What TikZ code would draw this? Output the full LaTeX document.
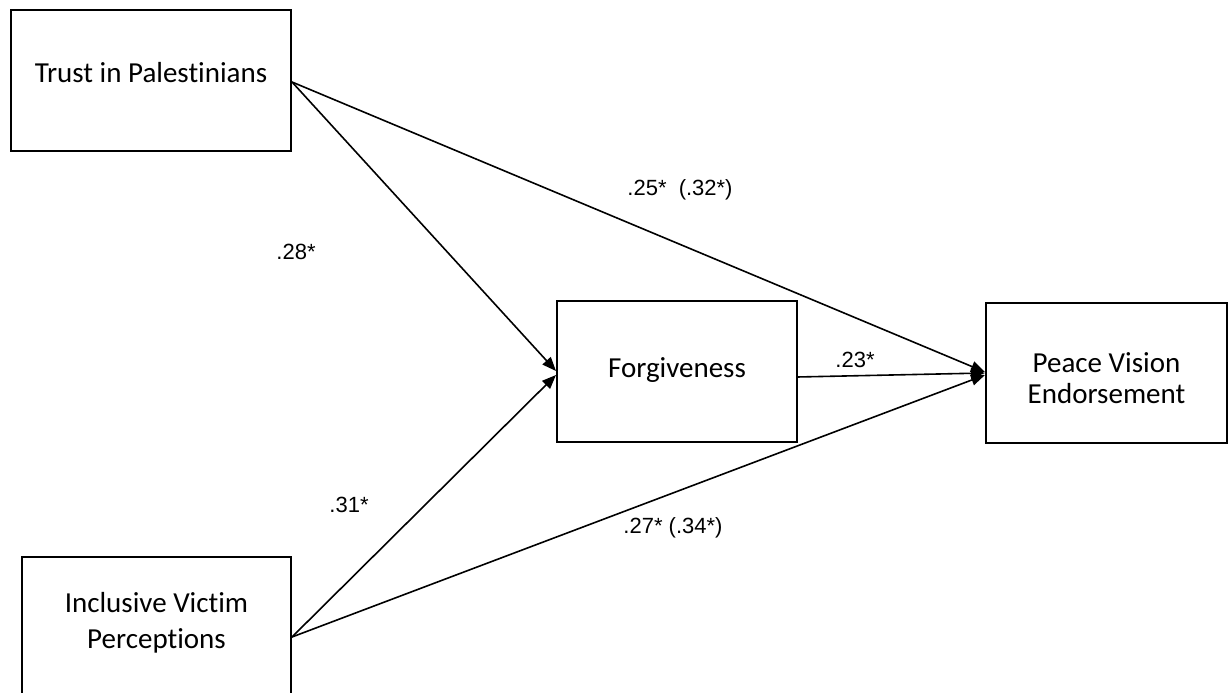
\documentclass[tikz,border=0pt]{standalone}
\usepackage{fontspec}
\setmainfont{Carlito}[Ligatures=NoCommon]
\newfontfamily\arialfont{Liberation Sans}
\usetikzlibrary{arrows.meta}
\begin{document}
\begin{tikzpicture}[x=1pt,y=-1pt,
  box/.style={draw=black,line width=1.7pt,inner sep=0pt,fill=none},
  boxtext/.style={anchor=base,inner sep=0pt,font=\fontsize{29}{35}\selectfont},
  coef/.style={anchor=base,inner sep=0pt,font=\arialfont\fontsize{22}{26}\selectfont},
  conn/.style={draw=black,line width=1.6pt,-{Triangle[length=14pt,width=11pt]}}]
\useasboundingbox (0,0) rectangle (1232,693);
\clip (0,0) rectangle (1232,693);
\fill[white] (0,0) rectangle (1232,693);
% boxes
\node[box,minimum width=280pt,minimum height=141pt] (trust) at (151,80.5) {};
\node[box,minimum width=240pt,minimum height=141pt] (forg) at (677,371.5) {};
\node[box,minimum width=241pt,minimum height=140pt] (peace) at (1106.5,373) {};
\node[box,minimum width=269pt,minimum height=160pt] (incl) at (156.5,637) {};
% box texts
\node[boxtext] (trustT) at (151,82) {Trust in Palestinians};
\node[boxtext] (forgT) at (677,377) {Forgiveness};
\node[boxtext] (peaceT1) at (1106.5,372) {Peace Vision};
\node[boxtext] (peaceT2) at (1106.5,403) {Endorsement};
\node[boxtext] (inclT1) at (156.5,612) {Inclusive Victim};
\node[boxtext] (inclT2) at (156.5,648) {Perceptions};
% connector end points on the box borders
\coordinate (trustOut) at (292,82);
\coordinate (inclOut) at (292,637);
\coordinate (forgOut) at (797,377);
\coordinate (forgIn1) at (556,371);
\coordinate (forgIn2) at (556,375);
\coordinate (peaceIn1) at (985,372);
\coordinate (peaceIn2) at (985,373);
\coordinate (peaceIn3) at (985,375);
% connectors
\draw[conn] (trustOut) -- (forgIn1);
\draw[conn] (trustOut) -- (peaceIn1);
\draw[conn] (forgOut) -- (peaceIn2);
\draw[conn] (inclOut) -- (forgIn2);
\draw[conn] (inclOut) -- (peaceIn3);
% coefficients
\node[coef] (c28) at (296,259) {.28*};
\node[coef] (c25) at (680,195) {.25*\ \ (.32*)};
\node[coef] (c23) at (855,367) {.23*};
\node[coef] (c31) at (349,512) {.31*};
\node[coef] (c27) at (673,533) {.27* (.34*)};
\end{tikzpicture}
\end{document}
